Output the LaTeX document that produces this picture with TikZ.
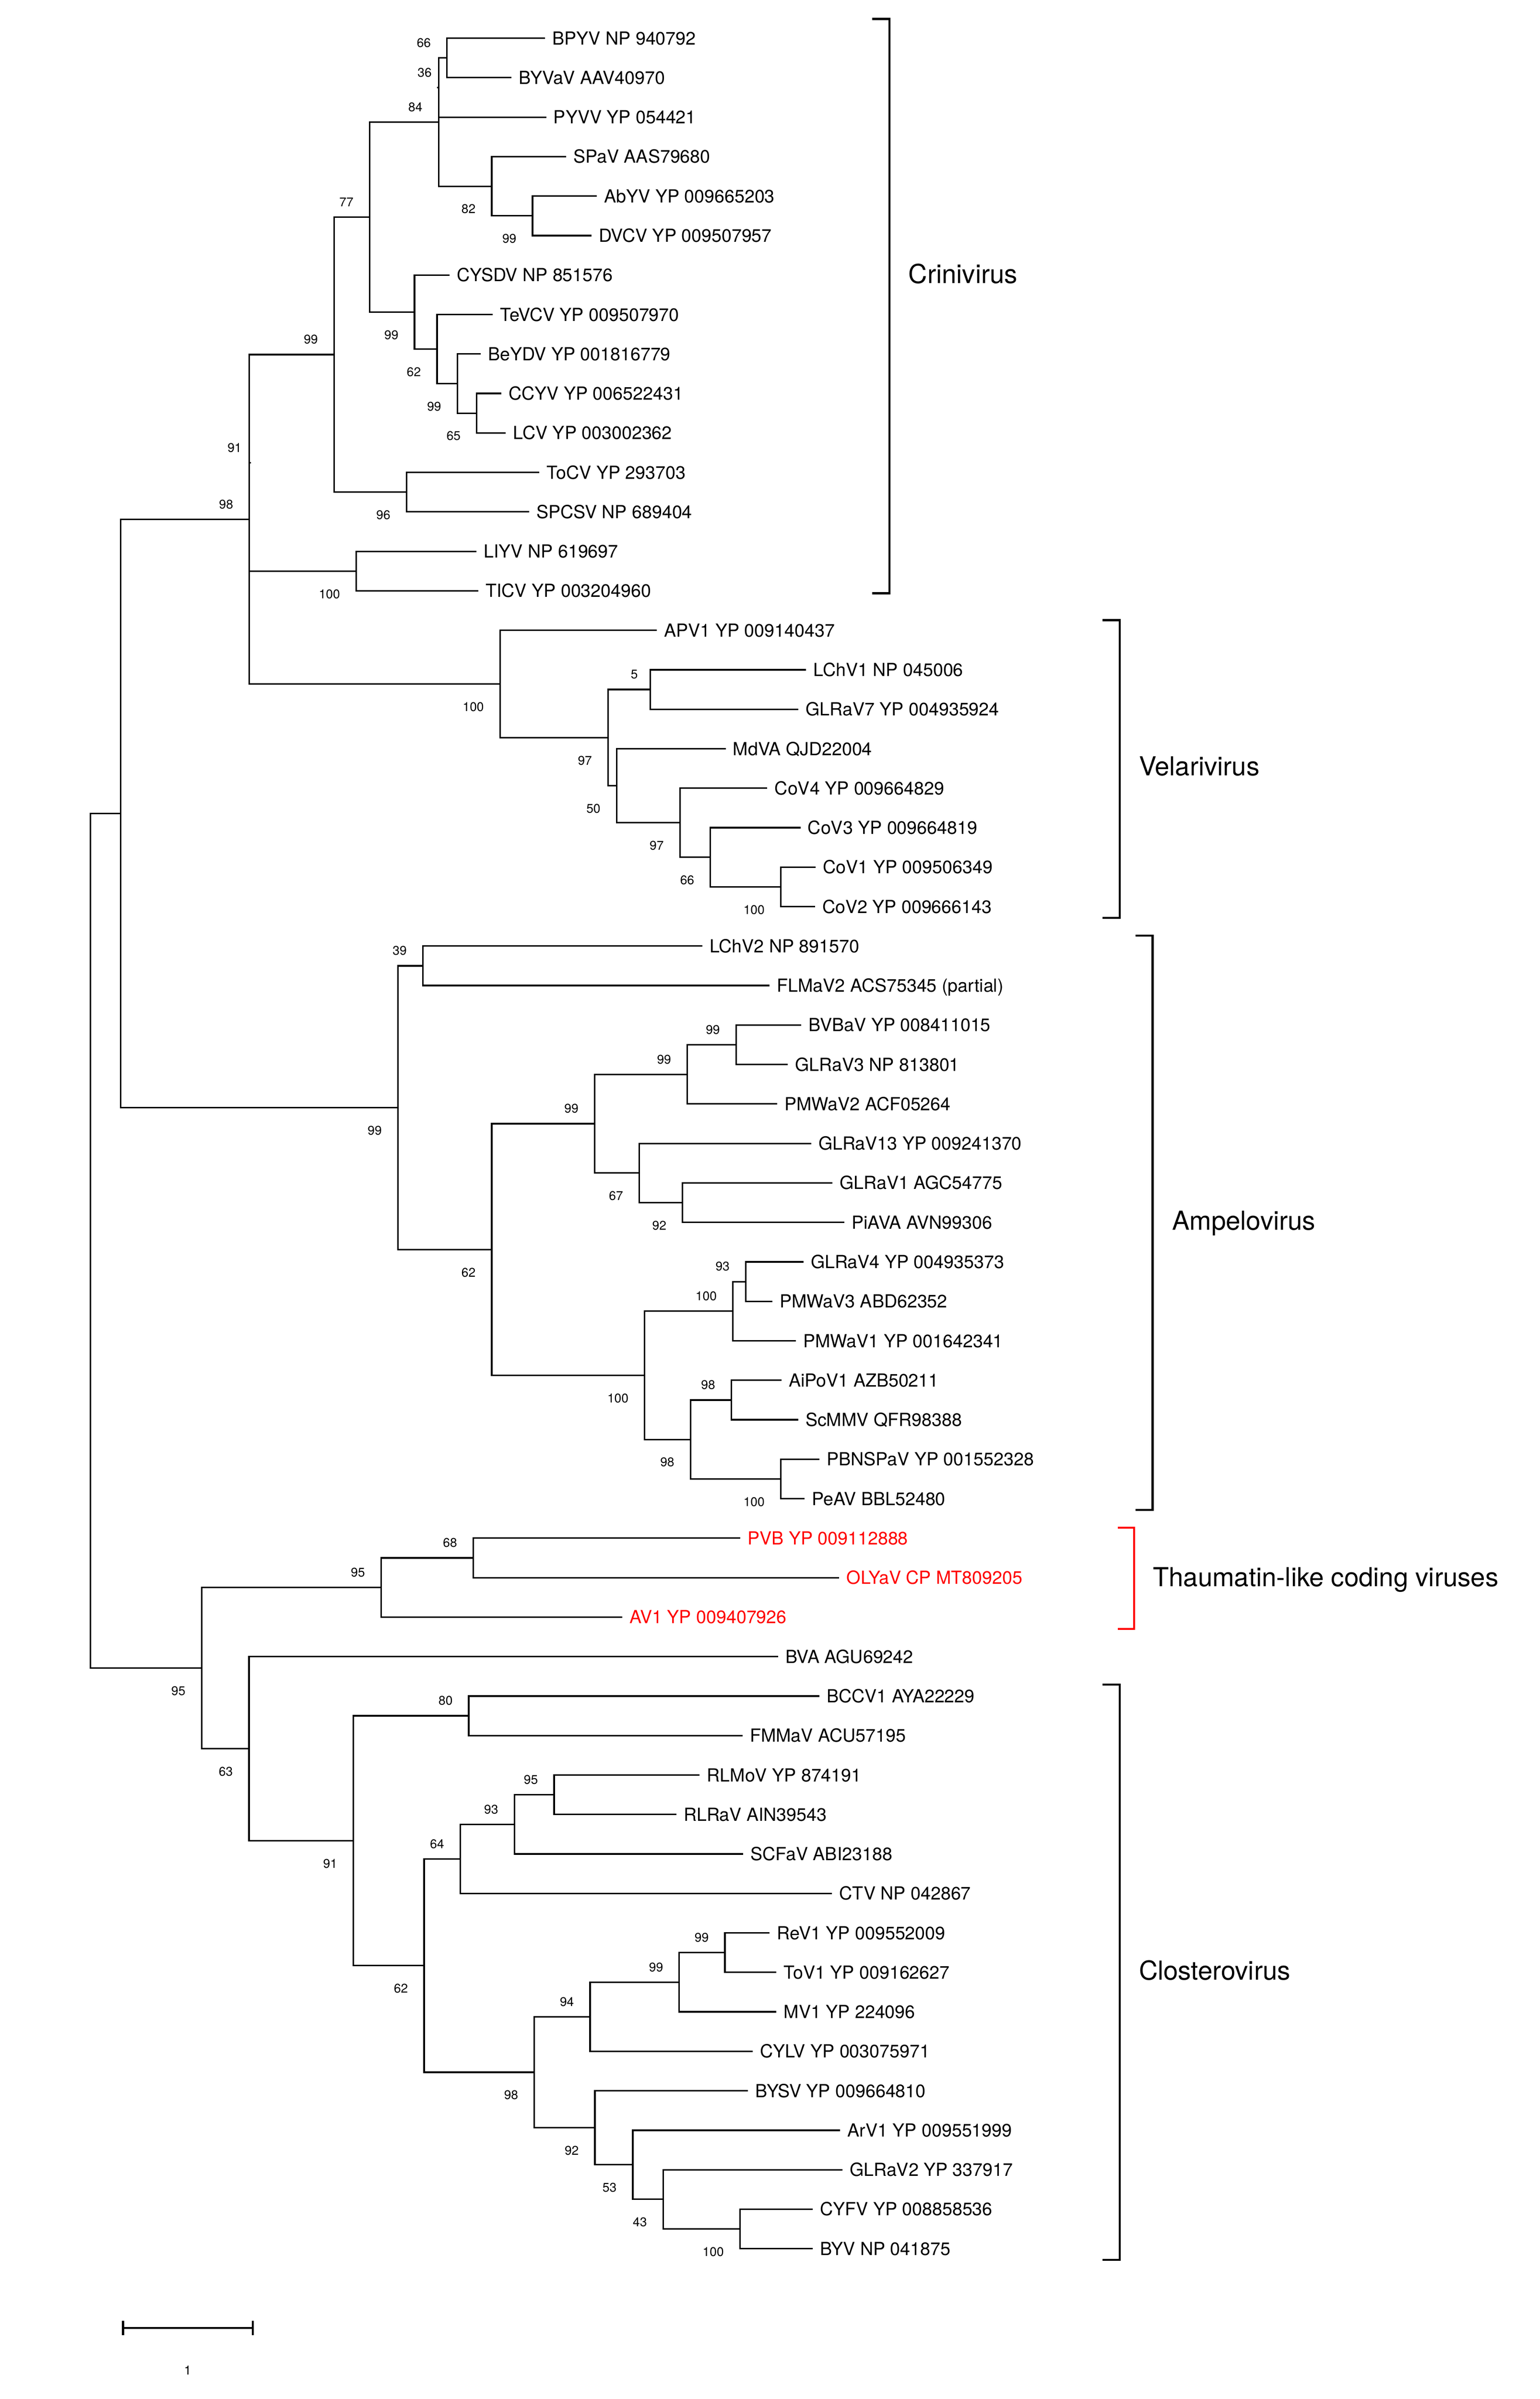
\documentclass[tikz,border=0pt]{standalone}
\usepackage{fontspec}
\setmainfont{TeX Gyre Heros}
\usetikzlibrary{calc}
\newcommand{\leafy}[1]{(24.8+25.63*((#1)-1))}
\begin{document}
\begin{tikzpicture}[x=0.3mm,y=-0.3mm,line width=0.3mm,line join=miter,
  leaf/.style={anchor=west,inner xsep=1.44mm,inner ysep=0pt,outer sep=0pt,font=\fontsize{10}{12}\selectfont,text height=0.72em,text depth=0pt},
  redleaf/.style={leaf,text=red},
  bs/.style={anchor=east,inner sep=0pt,outer sep=0pt,font=\fontsize{7}{8}\selectfont,text height=0.7em,text depth=0pt},
  clade/.style={anchor=west,inner sep=0pt,outer sep=0pt,font=\fontsize{14.5}{17}\selectfont,text height=0.72em,text depth=0pt},
  bracket/.style={line width=0.4mm},
  redbracket/.style={line width=0.4mm,draw=red}]
\useasboundingbox (0,0) rectangle (1000,1557.7);

% ---------------- leaves ----------------
\node[leaf] (l1) at (354.0,{\leafy{1}}) {BPYV NP 940792};
\node[leaf] (l2) at (332.2,{\leafy{2}}) {BYVaV AAV40970};
\node[leaf] (l3) at (354.7,{\leafy{3}}) {PYVV YP 054421};
\node[leaf] (l4) at (367.6,{\leafy{4}}) {SPaV AAS79680};
\node[leaf] (l5) at (387.5,{\leafy{5}}) {AbYV YP 009665203};
\node[leaf] (l6) at (384.2,{\leafy{6}}) {DVCV YP 009507957};
\node[leaf] (l7) at (292.0,{\leafy{7}}) {CYSDV NP 851576};
\node[leaf] (l8) at (320.0,{\leafy{8}}) {TeVCV YP 009507970};
\node[leaf] (l9) at (312.1,{\leafy{9}}) {BeYDV YP 001816779};
\node[leaf] (l10) at (325.5,{\leafy{10}}) {CCYV YP 006522431};
\node[leaf] (l11) at (328.5,{\leafy{11}}) {LCV YP 003002362};
\node[leaf] (l12) at (350.3,{\leafy{12}}) {ToCV YP 293703};
\node[leaf] (l13) at (343.6,{\leafy{13}}) {SPCSV NP 689404};
\node[leaf] (l14) at (309.4,{\leafy{14}}) {LIYV NP 619697};
\node[leaf] (l15) at (310.6,{\leafy{15}}) {TICV YP 003204960};
\node[leaf] (l16) at (426.6,{\leafy{16}}) {APV1 YP 009140437};
\node[leaf] (l17) at (523.5,{\leafy{17}}) {LChV1 NP 045006};
\node[leaf] (l18) at (518.5,{\leafy{18}}) {GLRaV7 YP 004935924};
\node[leaf] (l19) at (471.2,{\leafy{19}}) {MdVA QJD22004};
\node[leaf] (l20) at (498.3,{\leafy{20}}) {CoV4 YP 009664829};
\node[leaf] (l21) at (519.8,{\leafy{21}}) {CoV3 YP 009664819};
\node[leaf] (l22) at (529.7,{\leafy{22}}) {CoV1 YP 009506349};
\node[leaf] (l23) at (529.2,{\leafy{23}}) {CoV2 YP 009666143};
\node[leaf] (l24) at (456.0,{\leafy{24}}) {LChV2 NP 891570};
\node[leaf] (l25) at (499.8,{\leafy{25}}) {FLMaV2 ACS75345 (partial)};
\node[leaf] (l26) at (520.4,{\leafy{26}}) {BVBaV YP 008411015};
\node[leaf] (l27) at (511.6,{\leafy{27}}) {GLRaV3 NP 813801};
\node[leaf] (l28) at (504.7,{\leafy{28}}) {PMWaV2 ACF05264};
\node[leaf] (l29) at (526.7,{\leafy{29}}) {GLRaV13 YP 009241370};
\node[leaf] (l30) at (540.5,{\leafy{30}}) {GLRaV1 AGC54775};
\node[leaf] (l31) at (548.3,{\leafy{31}}) {PiAVA AVN99306};
\node[leaf] (l32) at (521.7,{\leafy{32}}) {GLRaV4 YP 004935373};
\node[leaf] (l33) at (501.5,{\leafy{33}}) {PMWaV3 ABD62352};
\node[leaf] (l34) at (516.8,{\leafy{34}}) {PMWaV1 YP 001642341};
\node[leaf] (l35) at (507.4,{\leafy{35}}) {AiPoV1 AZB50211};
\node[leaf] (l36) at (518.3,{\leafy{36}}) {ScMMV QFR98388};
\node[leaf] (l37) at (532.1,{\leafy{37}}) {PBNSPaV YP 001552328};
\node[leaf] (l38) at (522.5,{\leafy{38}}) {PeAV BBL52480};
\node[redleaf] (l39) at (480.7,{\leafy{39}}) {PVB YP 009112888};
\node[redleaf] (l40) at (545.0,{\leafy{40}}) {OLYaV CP MT809205};
\node[redleaf] (l41) at (404.0,{\leafy{41}}) {AV1 YP 009407926};
\node[leaf] (l42) at (505.3,{\leafy{42}}) {BVA AGU69242};
\node[leaf] (l43) at (532.1,{\leafy{43}}) {BCCV1 AYA22229};
\node[leaf] (l44) at (482.2,{\leafy{44}}) {FMMaV ACU57195};
\node[leaf] (l45) at (454.3,{\leafy{45}}) {RLMoV YP 874191};
\node[leaf] (l46) at (439.2,{\leafy{46}}) {RLRaV AIN39543};
\node[leaf] (l47) at (482.6,{\leafy{47}}) {SCFaV ABI23188};
\node[leaf] (l48) at (540.3,{\leafy{48}}) {CTV NP 042867};
\node[leaf] (l49) at (499.8,{\leafy{49}}) {ReV1 YP 009552009};
\node[leaf] (l50) at (504.2,{\leafy{50}}) {ToV1 YP 009162627};
\node[leaf] (l51) at (504.2,{\leafy{51}}) {MV1 YP 224096};
\node[leaf] (l52) at (488.9,{\leafy{52}}) {CYLV YP 003075971};
\node[leaf] (l53) at (485.8,{\leafy{53}}) {BYSV YP 009664810};
\node[leaf] (l54) at (545.6,{\leafy{54}}) {ArV1 YP 009551999};
\node[leaf] (l55) at (547.0,{\leafy{55}}) {GLRaV2 YP 337917};
\node[leaf] (l56) at (527.7,{\leafy{56}}) {CYFV YP 008858536};
\node[leaf] (l57) at (527.7,{\leafy{57}}) {BYV NP 041875};

% ---------------- internal nodes ----------------
\coordinate (n66) at (290.3,{\leafy{1.5}});
\coordinate (n82) at (319.3,{\leafy{4.75}});
\coordinate (n99a) at (345.8,{\leafy{5.5}});
\coordinate (n84) at (284.8,{\leafy{3.125}});
\coordinate (n65) at (309.6,{\leafy{10.5}});
\coordinate (n99c) at (297.0,{\leafy{9.75}});
\coordinate (n62) at (283.8,{\leafy{8.875}});
\coordinate (n99b) at (269.2,{\leafy{7.9375}});
\coordinate (n77) at (240.0,{\leafy{5.53125}});
\coordinate (n96) at (264.0,{\leafy{12.5}});
\coordinate (n99t) at (216.9,{\leafy{9.015625}});
\coordinate (n100l) at (231.3,{\leafy{14.5}});
\coordinate (n100v) at (507.0,{\leafy{22.5}});
\coordinate (n66v) at (461.3,{\leafy{21.75}});
\coordinate (n97b) at (441.5,{\leafy{20.875}});
\coordinate (n50) at (400.4,{\leafy{19.9375}});
\coordinate (n5) at (422.2,{\leafy{17.5}});
\coordinate (n97a) at (394.9,{\leafy{18.71875}});
\coordinate (n100e) at (324.7,{\leafy{17.359375}});
\coordinate (n98) at (161.9,{\leafy{13.1875}});
\coordinate (n39) at (274.6,{\leafy{24.5}});
\coordinate (a99a) at (478.0,{\leafy{26.5}});
\coordinate (a99b) at (446.3,{\leafy{27.25}});
\coordinate (a92) at (443.2,{\leafy{30.5}});
\coordinate (a67) at (415.1,{\leafy{29.75}});
\coordinate (a99c) at (386.1,{\leafy{28.5}});
\coordinate (a93) at (484.3,{\leafy{32.5}});
\coordinate (a100a) at (475.9,{\leafy{33.25}});
\coordinate (a98a) at (474.9,{\leafy{35.5}});
\coordinate (a100c) at (507.0,{\leafy{37.5}});
\coordinate (a98b) at (448.4,{\leafy{36.5}});
\coordinate (a100b) at (418.6,{\leafy{34.875}});
\coordinate (a62) at (319.3,{\leafy{31.6875}});
\coordinate (a99) at (258.4,{\leafy{28.09375}});
\coordinate (nup) at (78.4,{\leafy{20.640625}});
\coordinate (t68) at (307.3,{\leafy{39.5}});
\coordinate (t95) at (247.5,{\leafy{40.25}});
\coordinate (c80) at (304.4,{\leafy{43.5}});
\coordinate (c95) at (359.8,{\leafy{45.5}});
\coordinate (c93) at (334.0,{\leafy{46.25}});
\coordinate (c64) at (298.9,{\leafy{47.125}});
\coordinate (c99r) at (470.7,{\leafy{49.5}});
\coordinate (c99s) at (441.1,{\leafy{50.25}});
\coordinate (c94) at (383.2,{\leafy{51.125}});
\coordinate (c100) at (480.5,{\leafy{56.5}});
\coordinate (c43) at (430.6,{\leafy{55.75}});
\coordinate (c53) at (410.9,{\leafy{54.875}});
\coordinate (c92) at (386.3,{\leafy{53.9375}});
\coordinate (c98) at (347.0,{\leafy{52.53125}});
\coordinate (c62) at (275.4,{\leafy{49.828125}});
\coordinate (c91) at (229.5,{\leafy{46.6640625}});
\coordinate (c63) at (161.7,{\leafy{44.33203}});
\coordinate (n95) at (130.9,{\leafy{42.291016}});
\coordinate (root) at (58.7,{\leafy{31.46582}});
\coordinate (k36) at (284.8,{\leafy{2.25}});
\coordinate (k91) at (161.9,{\leafy{11.7578}});

% ---------------- branches ----------------
\draw (l1.west) -| (n66) |- (l2.west);
\draw (n66) -| (n84) |- (n82);
\draw (n84 |- l3.west) -- (l3.west);
\draw (k36) -- ++(-1,0);
\draw (l4.west) -| (n82) |- (n99a);
\draw (l5.west) -| (n99a) |- (l6.west);
\draw (n84) -| (n77) |- (n99b);
\draw (l7.west) -| (n99b) |- (n62);
\draw (l8.west) -| (n62) |- (n99c);
\draw (l9.west) -| (n99c) |- (n65);
\draw (l10.west) -| (n65) |- (l11.west);
\draw (n77) -| (n99t) |- (n96);
\draw (l12.west) -| (n96) |- (l13.west);
\draw (l14.west) -| (n100l) |- (l15.west);
\draw (n99t) -| (n98) |- (n100e);
\draw (n98 |- n100l) -- (n100l);
\draw (k91) -- ++(1,0);
\draw (l16.west) -| (n100e) |- (n97a);
\draw (n5) -| (n97a) |- (n50);
\draw (l17.west) -| (n5) |- (l18.west);
\draw (l19.west) -| (n50) |- (n97b);
\draw (l20.west) -| (n97b) |- (n66v);
\draw (l21.west) -| (n66v) |- (n100v);
\draw (l22.west) -| (n100v) |- (l23.west);
\draw (n98) -| (nup) |- (a99);
\draw (n39) -| (a99) |- (a62);
\draw (l24.west) -| (n39) |- (l25.west);
\draw (a99c) -| (a62) |- (a100b);
\draw (a99b) -| (a99c) |- (a67);
\draw (a99a) -| (a99b) |- (l28.west);
\draw (l26.west) -| (a99a) |- (l27.west);
\draw (l29.west) -| (a67) |- (a92);
\draw (l30.west) -| (a92) |- (l31.west);
\draw (a100a) -| (a100b) |- (a98b);
\draw (a93) -| (a100a) |- (l34.west);
\draw (l32.west) -| (a93) |- (l33.west);
\draw (a98a) -| (a98b) |- (a100c);
\draw (l35.west) -| (a98a) |- (l36.west);
\draw (l37.west) -| (a100c) |- (l38.west);
\draw (nup) -| (root) |- (n95);
\draw (t95) -| (n95) |- (c63);
\draw (t68) -| (t95) |- (l41.west);
\draw (l39.west) -| (t68) |- (l40.west);
\draw (l42.west) -| (c63) |- (c91);
\draw (c80) -| (c91) |- (c62);
\draw (l43.west) -| (c80) |- (l44.west);
\draw (c64) -| (c62) |- (c98);
\draw (c93) -| (c64) |- (l48.west);
\draw (c95) -| (c93) |- (l47.west);
\draw (l45.west) -| (c95) |- (l46.west);
\draw (c94) -| (c98) |- (c92);
\draw (c99s) -| (c94) |- (l52.west);
\draw (c99r) -| (c99s) |- (l51.west);
\draw (l49.west) -| (c99r) |- (l50.west);
\draw (l53.west) -| (c92) |- (c53);
\draw (l54.west) -| (c53) |- (c43);
\draw (l55.west) -| (c43) |- (c100);
\draw (l56.west) -| (c100) |- (l57.west);

% ---------------- bootstrap values ----------------
\node[bs] (b1) at ($(n66)+(-10.5,-11)$) {66};
\node[bs] (b2) at ($(k36)+(-4.5,-11)$) {36};
\node[bs] (b3) at ($(n84)+(-10.5,-11)$) {84};
\node[bs] (b4) at ($(n82)+(-10.5,13.6)$) {82};
\node[bs] (b5) at ($(n99a)+(-10.5,13.6)$) {99};
\node[bs] (b6) at ($(n77)+(-10.5,-11)$) {77};
\node[bs] (b7) at ($(n99b)+(-10.5,13.6)$) {99};
\node[bs] (b8) at ($(n62)+(-10.5,13.6)$) {62};
\node[bs] (b9) at ($(n99c)+(-10.5,13.6)$) {99};
\node[bs] (b10) at ($(n65)+(-10.5,13.6)$) {65};
\node[bs] (b11) at ($(n99t)+(-10.5,-11)$) {99};
\node[bs] (b12) at ($(n96)+(-10.5,13.6)$) {96};
\node[bs] (b13) at ($(k91)+(-5,-11)$) {91};
\node[bs] (b14) at ($(n98)+(-10.5,-11)$) {98};
\node[bs] (b15) at ($(n100l)+(-10.5,13.6)$) {100};
\node[bs] (b16) at ($(n100e)+(-10.5,13.6)$) {100};
\node[bs] (b17) at ($(n5)+(-8,-11)$) {5};
\node[bs] (b18) at ($(n97a)+(-10.5,13.6)$) {97};
\node[bs] (b19) at ($(n50)+(-10.5,13.6)$) {50};
\node[bs] (b20) at ($(n97b)+(-10.5,13.6)$) {97};
\node[bs] (b21) at ($(n66v)+(-10.5,13.6)$) {66};
\node[bs] (b22) at ($(n100v)+(-10.5,13.6)$) {100};
\node[bs] (b23) at ($(n39)+(-10.5,-11)$) {39};
\node[bs] (b24) at ($(a99)+(-10.5,13.6)$) {99};
\node[bs] (b25) at ($(a99a)+(-10.5,-11)$) {99};
\node[bs] (b26) at ($(a99b)+(-10.5,-11)$) {99};
\node[bs] (b27) at ($(a99c)+(-10.5,-11)$) {99};
\node[bs] (b28) at ($(a67)+(-10.5,13.6)$) {67};
\node[bs] (b29) at ($(a92)+(-10.5,13.6)$) {92};
\node[bs] (b30) at ($(a62)+(-10.5,13.6)$) {62};
\node[bs] (b31) at ($(a93)+(-10.5,-11)$) {93};
\node[bs] (b32) at ($(a100a)+(-10.5,-11)$) {100};
\node[bs] (b33) at ($(a100b)+(-10.5,13.6)$) {100};
\node[bs] (b34) at ($(a98a)+(-10.5,-11)$) {98};
\node[bs] (b35) at ($(a98b)+(-10.5,13.6)$) {98};
\node[bs] (b36) at ($(a100c)+(-10.5,13.6)$) {100};
\node[bs] (b37) at ($(t68)+(-10.5,-11)$) {68};
\node[bs] (b38) at ($(t95)+(-10.5,-11)$) {95};
\node[bs] (b39) at ($(n95)+(-10.5,13.6)$) {95};
\node[bs] (b40) at ($(c63)+(-10.5,13.6)$) {63};
\node[bs] (b41) at ($(c80)+(-10.5,-11)$) {80};
\node[bs] (b42) at ($(c91)+(-10.5,13.6)$) {91};
\node[bs] (b43) at ($(c95)+(-10.5,-11)$) {95};
\node[bs] (b44) at ($(c93)+(-10.5,-11)$) {93};
\node[bs] (b45) at ($(c64)+(-10.5,-11)$) {64};
\node[bs] (b46) at ($(c62)+(-10.5,13.6)$) {62};
\node[bs] (b47) at ($(c99r)+(-10.5,-11)$) {99};
\node[bs] (b48) at ($(c99s)+(-10.5,-11)$) {99};
\node[bs] (b49) at ($(c94)+(-10.5,-11)$) {94};
\node[bs] (b50) at ($(c98)+(-10.5,13.6)$) {98};
\node[bs] (b51) at ($(c92)+(-10.5,13.6)$) {92};
\node[bs] (b52) at ($(c53)+(-10.5,13.6)$) {53};
\node[bs] (b53) at ($(c43)+(-10.5,13.6)$) {43};
\node[bs] (b54) at ($(c100)+(-10.5,13.6)$) {100};

% ---------------- clade brackets ----------------
\draw[bracket] (566.3,12.3) -- (577.5,12.3) -- (577.5,385.2) -- (566.3,385.2);
\node[clade] (gcrini) at (590.0,179.6) {Crinivirus};
\draw[bracket] (715.9,402.7) -- (727.1,402.7) -- (727.1,595.9) -- (715.9,595.9);
\node[clade] (gvela) at (739.6,499.3) {Velarivirus};
\draw[bracket] (737.4,607.6) -- (748.5,607.6) -- (748.5,980.5) -- (737.4,980.5);
\node[clade] (gampe) at (761.1,794.3) {Ampelovirus};
\draw[redbracket] (725.9,991.9) -- (736.5,991.9) -- (736.5,1057.7) -- (725.9,1057.7);
\node[clade] (gthau) at (748.7,1025.9) {Thaumatin-like coding viruses};
\draw[bracket] (715.9,1093.7) -- (727.1,1093.7) -- (727.1,1467.3) -- (715.9,1467.3);
\node[clade] (gclos) at (739.6,1281.4) {Closterovirus};

% ---------------- scale bar ----------------
\coordinate (s0) at (79.9,1511.5);
\coordinate (s1) at (164.2,1511.5);
\draw[line width=0.4mm] (s0) -- (s1);
\draw[line width=0.4mm] ($(s0)+(0,-4.6)$) -- ($(s0)+(0,4.6)$);
\draw[line width=0.4mm] ($(s1)+(0,-4.6)$) -- ($(s1)+(0,4.6)$);
\node[bs,anchor=center] (slab) at (121.9,1538) {1};
\end{tikzpicture}
\end{document}
